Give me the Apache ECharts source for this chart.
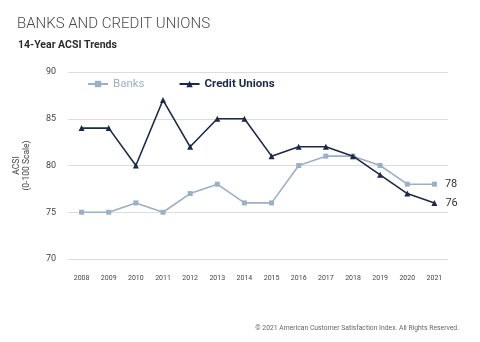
<!DOCTYPE html>
<html>
<head>
<meta charset="utf-8">
<script src="https://cdn.jsdelivr.net/npm/echarts@6/dist/echarts.min.js"></script>
<style>
  html, body { margin: 0; padding: 0; background: #fff; }
  #chart { width: 480px; height: 342px; }
</style>
</head>
<body>
<div id="chart"></div>
<script>
// ACSI scores by year
const years = ['2008','2009','2010','2011','2012','2013','2014','2015','2016','2017','2018','2019','2020','2021'];
const banks = [75, 75, 76, 75, 77, 78, 76, 76, 80, 81, 81, 80, 78, 78];
const creditUnions = [84, 84, 80, 87, 82, 85, 85, 81, 82, 82, 81, 79, 77, 76];
const yTicks = [70, 75, 80, 85, 90];

const BANK_COLOR = '#9bb0c6';
const CU_COLOR = '#1b2a48';
const FONT = 'Roboto, "Liberation Sans", sans-serif';

const chart = echarts.init(document.getElementById('chart'), null, { renderer: 'canvas' });

// value label shown only beside the last point of a series
function endLabel() {
  return {
    show: true,
    position: 'right',
    distance: 8,
    color: '#333',
    fontSize: 11,
    fontFamily: FONT,
    formatter: p => (p.dataIndex === years.length - 1 ? String(p.value) : '')
  };
}

chart.setOption({
  animation: false,
  backgroundColor: '#fff',
  title: [
    {
      text: 'BANKS AND CREDIT UNIONS',
      left: 12, top: 12,
      textStyle: { fontFamily: FONT, fontSize: 15, fontWeight: 300, color: '#4a4a4a' }
    },
    {
      text: '14-Year ACSI Trends',
      left: 13, top: 35,
      textStyle: { fontFamily: FONT, fontSize: 10.5, fontWeight: 'bold', color: '#2b2b2b' }
    },
    {
      text: '© 2021 American Customer Satisfaction Index. All Rights Reserved.',
      right: 16, top: 320,
      textStyle: { fontFamily: FONT, fontSize: 6.8, fontWeight: 'normal', color: '#666' }
    }
  ],
  legend: {
    left: 82, top: 73,
    itemWidth: 20, itemHeight: 8, itemGap: 34,
    textStyle: { fontFamily: FONT, fontSize: 11.5 },
    data: [
      { name: 'Banks', textStyle: { color: BANK_COLOR, fontWeight: 'normal' } },
      { name: 'Credit Unions', textStyle: { color: CU_COLOR, fontWeight: 'bold' } }
    ]
  },
  grid: { left: 68, right: 32, top: 72, bottom: 83 },
  xAxis: {
    type: 'category',
    data: years,
    boundaryGap: true,
    axisLine: { show: false },
    axisTick: { show: false },
    axisLabel: { fontFamily: FONT, fontSize: 7, color: '#444', margin: 16 }
  },
  yAxis: {
    type: 'value',
    min: yTicks[0], max: yTicks[yTicks.length - 1], interval: 5,
    name: 'ACSI\n(0-100 Scale)',
    nameLocation: 'middle',
    nameGap: 36,
    nameRotate: 90,
    nameTextStyle: { fontFamily: FONT, fontSize: 8.5, color: '#444', lineHeight: 10 },
    axisLine: { show: false },
    axisTick: { show: false },
    axisLabel: { fontFamily: FONT, fontSize: 9, color: '#444', margin: 12 },
    splitLine: { lineStyle: { color: '#dcdcdc', width: 1 } }
  },
  series: [
    {
      name: 'Banks',
      type: 'line',
      data: banks,
      color: BANK_COLOR,
      symbol: 'rect',
      symbolSize: 5,
      lineStyle: { width: 1.6, color: BANK_COLOR },
      itemStyle: { color: BANK_COLOR },
      label: endLabel(),
      z: 2
    },
    {
      name: 'Credit Unions',
      type: 'line',
      data: creditUnions,
      color: CU_COLOR,
      symbol: 'triangle',
      symbolSize: 6,
      lineStyle: { width: 1.6, color: CU_COLOR },
      itemStyle: { color: CU_COLOR },
      label: endLabel(),
      z: 3
    }
  ]
});
</script>
</body>
</html>
